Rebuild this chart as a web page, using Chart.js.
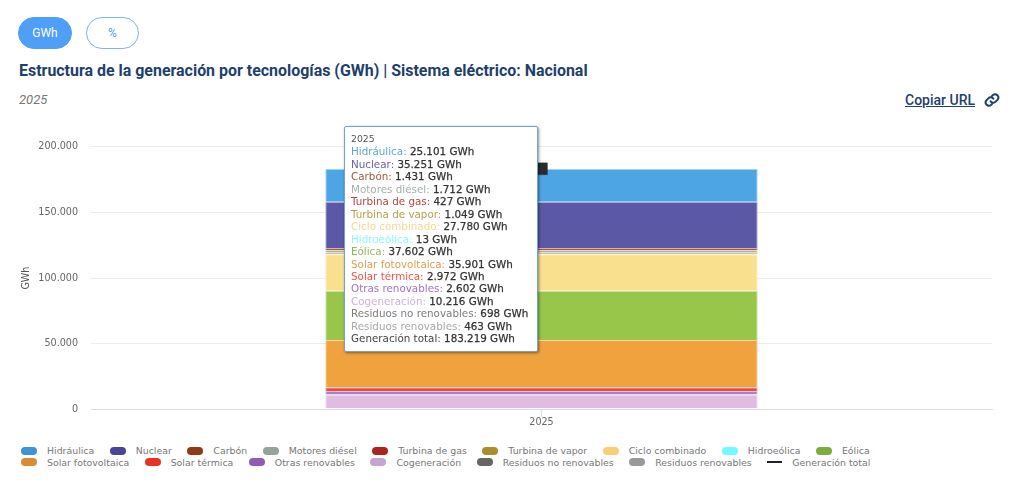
<!DOCTYPE html>
<html><head><meta charset="utf-8">
<script src="https://cdn.jsdelivr.net/npm/chart.js@4"></script>
<style>
html,body{margin:0;padding:0;background:#fff;width:1024px;height:485px;overflow:hidden}
.abs{position:absolute;white-space:nowrap}
.pill{box-sizing:border-box;height:32px;top:17px;border-radius:16px;font:12px Roboto,sans-serif;text-align:center;line-height:30px;border:1.5px solid #4f9ef8}
#title{left:19px;top:61px;font:bold 15.95px Roboto,sans-serif;color:#1d3f6e}
#sub{left:19px;top:92px;font:italic 13px Roboto,sans-serif;color:#777}
#copy{left:905px;top:92px;font:500 14px Roboto,sans-serif;color:#1d3f6e;text-decoration:underline}
#wrap{position:absolute;left:0;top:128px;width:1024px;height:312px}
#tip{position:absolute;box-sizing:border-box;background:#fff;border:1.5px solid #6aa5d6;border-radius:2px;box-shadow:1px 1px 3px rgba(0,0,0,.45);font:10.35px "DejaVu Sans",sans-serif;line-height:12.45px;padding:6px 6px;color:#444;white-space:nowrap}
#tip .t{font-size:9.3px;color:#555}
#tip b{font-weight:normal;color:#333;-webkit-text-stroke:.25px #333}
#legend{position:absolute;left:21px;top:445px;width:990px;font:9.4px "DejaVu Sans",sans-serif;color:#777}
#legend .row{height:11.8px;line-height:11.8px;white-space:nowrap;display:block}
#legend .it{display:inline-block;margin-right:15.5px}
#legend .sw{display:inline-block;width:16px;height:8px;border-radius:4px;margin-right:10px;vertical-align:-0.5px}
#legend .ln{display:inline-block;width:15px;height:2px;margin-right:10px;vertical-align:3px;background:#222}
</style></head><body>
<div class="abs pill" style="left:18px;width:54px;background:#4f9ef8;color:#fff">GWh</div>
<div class="abs pill" style="left:86px;width:53px;background:#fff;color:#4f9ef8;border-color:#7ab5f8">%</div>
<div class="abs" id="title">Estructura de la generación por tecnologías (GWh) | Sistema eléctrico: Nacional</div>
<div class="abs" id="sub">2025</div>
<div class="abs" id="copy">Copiar URL</div>
<svg class="abs" style="left:984px;top:92px" width="16" height="16" viewBox="0 0 24 24" fill="none" stroke="#1d3f6e" stroke-width="3" stroke-linecap="round"><path d="M10 14a5 5 0 0 0 7.5.5l3-3a5 5 0 0 0-7-7l-1.7 1.7"/><path d="M14 10a5 5 0 0 0-7.5-.5l-3 3a5 5 0 0 0 7 7l1.7-1.7"/></svg>
<div id="wrap"><canvas id="c"></canvas></div>
<div id="legend"></div>
<div id="tip"></div>
<script>
const categories=['2025'];
const seriesNames=['Hidráulica','Nuclear','Carbón','Motores diésel','Turbina de gas','Turbina de vapor','Ciclo combinado','Hidroeólica','Eólica','Solar fotovoltaica','Solar térmica','Otras renovables','Cogeneración','Residuos no renovables','Residuos renovables'];
const seriesValues=[25101,35251,1431,1712,427,1049,27780,13,37602,35901,2972,2602,10216,698,463];
const seriesColors=['#3f93d4','#4a4595','#8e3a16','#94a39b','#a9251f','#a88e2c','#f8cf77','#73f8ff','#7dac3a','#d98c33','#ea3323','#8f5bb5','#c7a3d2','#666666','#999999'];
const barColors=['#4da5e3','#5b58a5','#a5583a','#a5b3ac','#b8453f','#b7a04c','#f9e08e','#8ff9ff','#97c64b','#f0a23f','#ee4a3c','#a97fc8','#e0bce0','#f1f1f1','#f7f7f7'];
const totalName='Generación total';
const totalValues=[183219];
const yTicks=[0,50000,100000,150000,200000];
const unit='GWh';
const fmt=v=>String(v).replace(/\B(?=(\d{3})+$)/g,'.');
function rgba(h,a){const n=parseInt(h.slice(1),16);return `rgba(${n>>16},${(n>>8)&255},${n&255},${a})`}
const datasets=seriesNames.map((n,i)=>({type:'bar',label:n,data:[seriesValues[i]],stack:'s',order:100-i,backgroundColor:barColors[i],hoverBackgroundColor:barColors[i],borderColor:rgba(barColors[i],.45),hoverBorderColor:rgba(barColors[i],.45),borderWidth:1,hoverBorderWidth:1,legendColor:seriesColors[i],categoryPercentage:.6,barPercentage:.8}));
datasets.push({type:'line',label:totalName,data:totalValues,stack:'t',order:0,borderColor:'#222',backgroundColor:'#2b2b2e',pointStyle:'rect',pointRadius:8.5,pointHoverRadius:8.5,pointBorderColor:'rgba(43,43,46,.25)',pointHoverBackgroundColor:'#2b2b2e',pointHoverBorderColor:'rgba(43,43,46,.25)',pointBorderWidth:1,pointHoverBorderWidth:1,borderWidth:2});
const tipEl=document.getElementById('tip');
function externalTip({tooltip}){
  const pts=tooltip.dataPoints||[];
  if(!pts.length)return;
  const rows=[...pts].sort((a,b)=>a.datasetIndex-b.datasetIndex).map(p=>{
    const ds=p.dataset,isLine=ds.type==='line';
    const col=isLine?'#444':rgba(ds.legendColor,.85);
    return `<div><span style="color:${col}">${ds.label}:</span> <b>${fmt(p.raw)} ${unit}</b></div>`;
  }).join('');
  tipEl.innerHTML=`<div class="t">${pts[0].label}</div>`+rows;
  tipEl.style.left='344px';tipEl.style.top='126px';tipEl.style.width='194px';tipEl.style.height='226px';
}
const chart=new Chart(document.getElementById('c'),{
  data:{labels:categories,datasets},
  options:{responsive:true,maintainAspectRatio:false,animation:false,
    layout:{padding:{left:21,right:32,top:18,bottom:12}},
    interaction:{mode:'index',intersect:false},
    plugins:{legend:{display:false},title:{display:false},tooltip:{enabled:false,external:externalTip}},
    scales:{
      x:{stacked:true,offset:true,grid:{color:'#d5dcf2',drawOnChartArea:false,tickLength:7,offset:false},border:{color:'#d5dcf2'},ticks:{color:'#666',font:{family:'DejaVu Sans',size:9.6},padding:0}},
      y:{stacked:true,min:0,max:200000,afterBuildTicks:a=>{a.ticks=yTicks.map(v=>({value:v}))},
        afterFit:s=>{s.width=70},
        title:{display:true,text:unit,color:'#555',font:{family:'DejaVu Sans',size:9.6},padding:{top:0,bottom:8}},
        grid:{color:c=>c.tick&&c.tick.value===0?'#d5dcf2':'#ececf0',drawTicks:false},border:{display:false},
        ticks:{color:'#666',font:{family:'DejaVu Sans',size:9.6},padding:13,callback:v=>fmt(v)}}
    }}
});
const active=datasets.map((d,i)=>({datasetIndex:i,index:0}));
chart.setActiveElements(active);
chart.tooltip.setActiveElements(active,{x:541,y:100});
chart.update('none');
const items=Chart.defaults.plugins.legend.labels.generateLabels(chart);
const rowSplit=9;
const itemHtml=(l)=>{const ds=datasets[l.datasetIndex];const sw=ds.type==='line'?`<span class="ln"></span>`:`<span class="sw" style="background:${ds.legendColor}"></span>`;return `<span class="it">${sw}${l.text}</span>`};
const ordered=[...items].sort((a,b)=>a.datasetIndex-b.datasetIndex);
document.getElementById('legend').innerHTML=`<div class="row">${ordered.slice(0,rowSplit).map(itemHtml).join('')}</div><div class="row">${ordered.slice(rowSplit).map(itemHtml).join('')}</div>`;
</script></body></html>
